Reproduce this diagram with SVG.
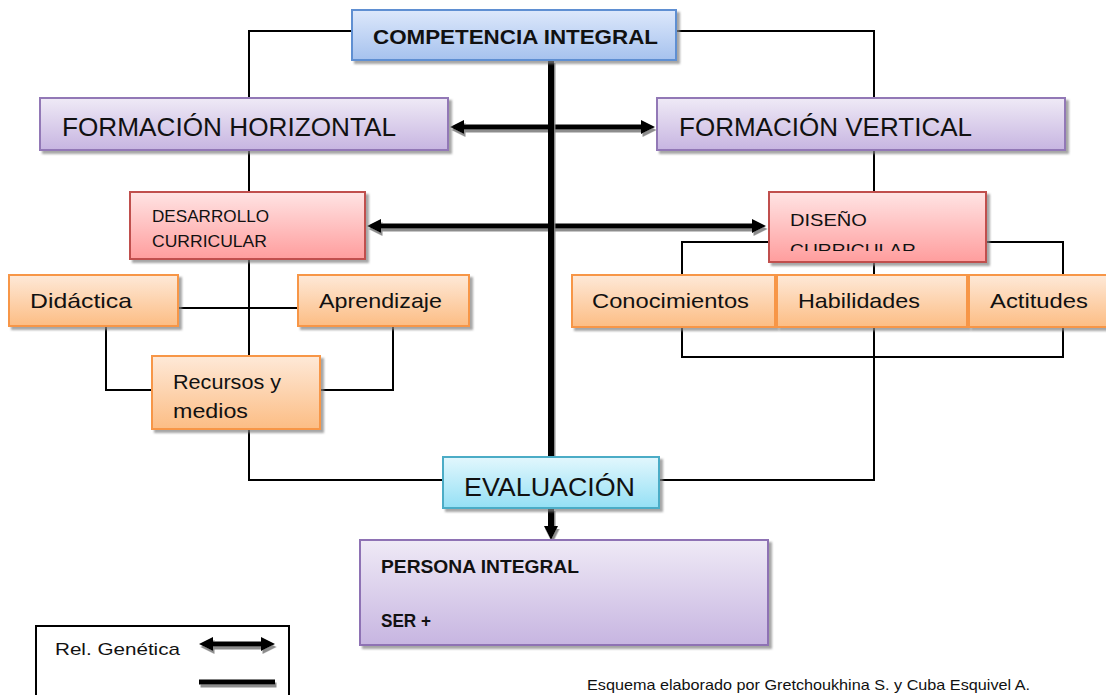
<svg xmlns="http://www.w3.org/2000/svg" width="1106" height="695" viewBox="0 0 1106 695">
<style>
.box{stroke-width:2;filter:url(#sh)}
.t{font-family:"Liberation Sans",Arial,sans-serif;fill:#111}
.b{font-weight:bold}
.thin{fill:none;stroke:#000;stroke-width:2}
.thick{fill:none;stroke:#000;stroke-width:5;filter:url(#sh2)}
</style>
<defs>
<filter id="sh" x="-10%" y="-10%" width="130%" height="140%"><feDropShadow dx="3" dy="3" stdDeviation="0.8" flood-color="#808080" flood-opacity="0.7"/></filter>
<filter id="sh2" filterUnits="userSpaceOnUse" x="0" y="0" width="1106" height="695"><feDropShadow dx="1.5" dy="3" stdDeviation="0.6" flood-color="#808080" flood-opacity="0.9"/></filter>
<linearGradient id="gBlue" x1="0" y1="0" x2="0" y2="1"><stop offset="0" stop-color="#dde8fb"/><stop offset="1" stop-color="#a6c2ee"/></linearGradient>
<linearGradient id="gPur" x1="0" y1="0" x2="0" y2="1"><stop offset="0" stop-color="#efeaf6"/><stop offset="1" stop-color="#c7b5e1"/></linearGradient>
<linearGradient id="gRed" x1="0" y1="0" x2="0" y2="1"><stop offset="0" stop-color="#ffe4e4"/><stop offset="1" stop-color="#ff9d9d"/></linearGradient>
<linearGradient id="gOr" x1="0" y1="0" x2="0" y2="1"><stop offset="0" stop-color="#fee9d8"/><stop offset="1" stop-color="#fcbd84"/></linearGradient>
<linearGradient id="gCy" x1="0" y1="0" x2="0" y2="1"><stop offset="0" stop-color="#e2f7fd"/><stop offset="1" stop-color="#95e0f5"/></linearGradient>
<marker id="ah" markerUnits="userSpaceOnUse" viewBox="0 0 14 14" markerWidth="14" markerHeight="14" refX="0" refY="7" orient="auto-start-reverse"><path d="M0,0 L14,7 L0,14 z" fill="#000"/></marker>
<clipPath id="cRec"><rect x="152" y="356" width="168" height="63"/></clipPath>
<clipPath id="cDis"><rect x="769" y="192" width="217" height="59"/></clipPath>
</defs>
<rect width="1106" height="695" fill="#fff"/>

<g id="connectors">
<path class="thin" d="M352,31 H249 V98"/>
<path class="thin" d="M676,31 H874 V98"/>
<path class="thin" d="M249,150 V192"/>
<path class="thin" d="M249,259 V356"/>
<path class="thin" d="M178,308 H298"/>
<path class="thin" d="M106,326 V390 H152"/>
<path class="thin" d="M393,326 V390 H320"/>
<path class="thin" d="M249,429 V480 H443"/>
<path class="thin" d="M874,150 V192"/>
<path class="thin" d="M874,262 V275"/>
<path class="thin" d="M682,275 V242 H769"/>
<path class="thin" d="M986,242 H1063 V275"/>
<path class="thin" d="M682,327 V357 H1063 V327"/>
<path class="thin" d="M874,327 V480 H659"/>
<path class="thick" d="M464,127 H641" marker-start="url(#ah)" marker-end="url(#ah)"/>
<path class="thick" d="M381,226 H752" marker-start="url(#ah)" marker-end="url(#ah)"/>
<path class="thick" d="M551,60 V457" style="stroke-width:6"/>
<path class="thick" d="M551,508 V526" style="stroke-width:6" marker-end="url(#ah)"/>
</g>

<g id="competencia">
<rect class="box" x="352" y="10" width="324" height="50" fill="url(#gBlue)" stroke="#5f8fd2"/>
<text class="t b" x="373" y="44" font-size="21" textLength="285" lengthAdjust="spacingAndGlyphs">COMPETENCIA INTEGRAL</text>
</g>
<g id="formacion-horizontal">
<rect class="box" x="40" y="98" width="408" height="52" fill="url(#gPur)" stroke="#9278b6"/>
<text class="t" x="62" y="136" font-size="26" textLength="334" lengthAdjust="spacingAndGlyphs">FORMACIÓN HORIZONTAL</text>
</g>
<g id="formacion-vertical">
<rect class="box" x="657" y="98" width="408" height="52" fill="url(#gPur)" stroke="#9278b6"/>
<text class="t" x="679" y="136" font-size="26" textLength="293" lengthAdjust="spacingAndGlyphs">FORMACIÓN VERTICAL</text>
</g>
<g id="desarrollo-curricular">
<rect class="box" x="130" y="192" width="235" height="67" fill="url(#gRed)" stroke="#c0504d"/>
<text class="t" x="152" y="222" font-size="17" textLength="117" lengthAdjust="spacingAndGlyphs">DESARROLLO</text>
<text class="t" x="152" y="247" font-size="17" textLength="115" lengthAdjust="spacingAndGlyphs">CURRICULAR</text>
</g>
<g id="diseno-curricular">
<rect class="box" x="769" y="192" width="217" height="70" fill="url(#gRed)" stroke="#c0504d"/>
<text class="t" x="790" y="226" font-size="17" textLength="77" lengthAdjust="spacingAndGlyphs">DISEÑO</text>
<text class="t" x="790" y="256" font-size="17" textLength="126" lengthAdjust="spacingAndGlyphs" clip-path="url(#cDis)">CURRICULAR</text>
</g>
<g id="didactica">
<rect class="box" x="9" y="275" width="169" height="51" fill="url(#gOr)" stroke="#f79646"/>
<text class="t" x="30" y="308" font-size="21" textLength="102" lengthAdjust="spacingAndGlyphs">Didáctica</text>
</g>
<g id="aprendizaje">
<rect class="box" x="298" y="275" width="171" height="51" fill="url(#gOr)" stroke="#f79646"/>
<text class="t" x="319" y="308" font-size="21" textLength="123" lengthAdjust="spacingAndGlyphs">Aprendizaje</text>
</g>
<g id="recursos-medios">
<rect class="box" x="152" y="356" width="168" height="73" fill="url(#gOr)" stroke="#f79646"/>
<text class="t" x="173" y="389" font-size="21" textLength="108" lengthAdjust="spacingAndGlyphs">Recursos y</text>
<text class="t" x="173" y="418" font-size="21" textLength="75" lengthAdjust="spacingAndGlyphs" clip-path="url(#cRec)">medios</text>
</g>
<g id="conocimientos">
<rect class="box" x="572" y="275" width="203" height="52" fill="url(#gOr)" stroke="#f79646"/>
<text class="t" x="592" y="308" font-size="21" textLength="157" lengthAdjust="spacingAndGlyphs">Conocimientos</text>
</g>
<g id="habilidades">
<rect class="box" x="777" y="275" width="190" height="52" fill="url(#gOr)" stroke="#f79646"/>
<text class="t" x="798" y="308" font-size="21" textLength="122" lengthAdjust="spacingAndGlyphs">Habilidades</text>
</g>
<g id="actitudes">
<rect class="box" x="969" y="275" width="140" height="52" fill="url(#gOr)" stroke="#f79646"/>
<text class="t" x="990" y="308" font-size="21" textLength="98" lengthAdjust="spacingAndGlyphs">Actitudes</text>
</g>
<g id="evaluacion">
<rect class="box" x="443" y="457" width="216" height="51" fill="url(#gCy)" stroke="#4bacc6"/>
<text class="t" x="464" y="496" font-size="26" textLength="171" lengthAdjust="spacingAndGlyphs">EVALUACIÓN</text>
</g>
<g id="persona-integral">
<rect class="box" x="360" y="540" width="408" height="105" fill="url(#gPur)" stroke="#8e72b4"/>
<text class="t b" x="381" y="573" font-size="18" textLength="198" lengthAdjust="spacingAndGlyphs">PERSONA INTEGRAL</text>
<text class="t b" x="381" y="627" font-size="18" textLength="50" lengthAdjust="spacingAndGlyphs">SER +</text>
</g>
<g id="legend">
<rect x="36" y="626" width="253" height="80" fill="#fff" stroke="#000" stroke-width="2"/>
<text class="t" x="55" y="655" font-size="17" textLength="125" lengthAdjust="spacingAndGlyphs">Rel. Genética</text>
<path class="thick" d="M213,644 H261" marker-start="url(#ah)" marker-end="url(#ah)"/>
<path class="thick" d="M199,682 H275"/>
</g>
<text class="t" x="587" y="690" font-size="15" textLength="443" lengthAdjust="spacingAndGlyphs">Esquema elaborado por Gretchoukhina S. y Cuba Esquivel A.</text>
</svg>
